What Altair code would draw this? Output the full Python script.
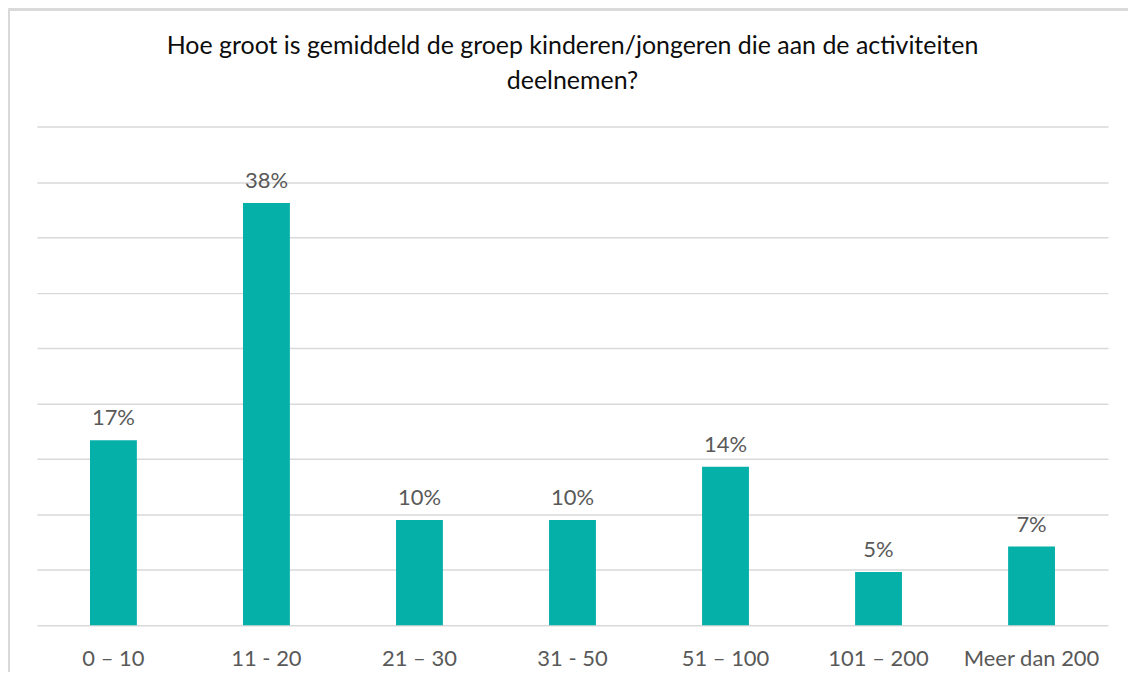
import altair as alt
import pandas as pd

categories = ["0 – 10", "11 - 20", "21 – 30", "31 - 50", "51 – 100", "101 – 200", "Meer dan 200"]
shares = [0.167, 0.381, 0.095, 0.095, 0.143, 0.048, 0.071]
grid_values = [0, 0.05, 0.10, 0.15, 0.20, 0.25, 0.30, 0.35, 0.40, 0.45]
title_lines = ["Hoe groot is gemiddeld de groep kinderen/jongeren die aan de activiteiten", "deelnemen?"]

df = pd.DataFrame({"cat": categories, "share": shares})
title_df = pd.DataFrame({"line": title_lines})

FONT = "Lato"
W, H = 1074, 500

x = alt.X("cat:N", sort=categories, title=None,
          scale=alt.Scale(paddingInner=0, paddingOuter=0),
          axis=alt.Axis(labelAngle=0, domain=False, ticks=False, tickSize=0,
                        labelFont=FONT, labelFontSize=22, labelColor="#595959",
                        labelBaseline="alphabetic", labelPadding=40))
y = alt.Y("share:Q", title=None,
          scale=alt.Scale(domain=[0, 0.45], nice=False, zero=True),
          axis=alt.Axis(values=grid_values, labels=False, ticks=False, domain=False,
                        grid=True, gridColor="#D9D9D9", gridWidth=1.5))

bars = alt.Chart(df).mark_bar(size=47, color="#05B0A9").encode(x=x, y=y)
labels = alt.Chart(df).mark_text(font=FONT, fontSize=22, color="#595959",
                                 baseline="alphabetic", dy=-15).encode(
    x=alt.X("cat:N", sort=categories),
    y=alt.Y("share:Q"),
    text=alt.Text("share:Q", format=".0%"))

title1 = alt.Chart(title_df).transform_filter(alt.datum.line == title_lines[0]).mark_text(
    font=FONT, fontSize=25, color="#0D0D0D", baseline="alphabetic", align="center").encode(
    x=alt.value(W / 2), y=alt.value(-73), text="line:N")
title2 = alt.Chart(title_df).transform_filter(alt.datum.line == title_lines[1]).mark_text(
    font=FONT, fontSize=25, color="#0D0D0D", baseline="alphabetic", align="center").encode(
    x=alt.value(W / 2), y=alt.value(-38), text="line:N")

frame_top = alt.Chart(df).mark_rule(color="#D9D9D9", strokeWidth=2).encode(
    x=alt.value(-28.5), x2=alt.value(W + 20), y=alt.value(-117.5))
frame_left = alt.Chart(df).mark_rule(color="#D9D9D9", strokeWidth=2).encode(
    x=alt.value(-28.5), y=alt.value(-117.5), y2=alt.value(H + 50))

chart = alt.layer(frame_top, frame_left, title1, title2, bars, labels).properties(
    width=W, height=H,
    autosize=alt.AutoSizeParams(type="none"),
    padding={"left": 29, "top": 118, "right": 20, "bottom": 46},
).configure_view(stroke=None)

chart.save("out.html", embed_options={"renderer": "svg", "actions": False})
